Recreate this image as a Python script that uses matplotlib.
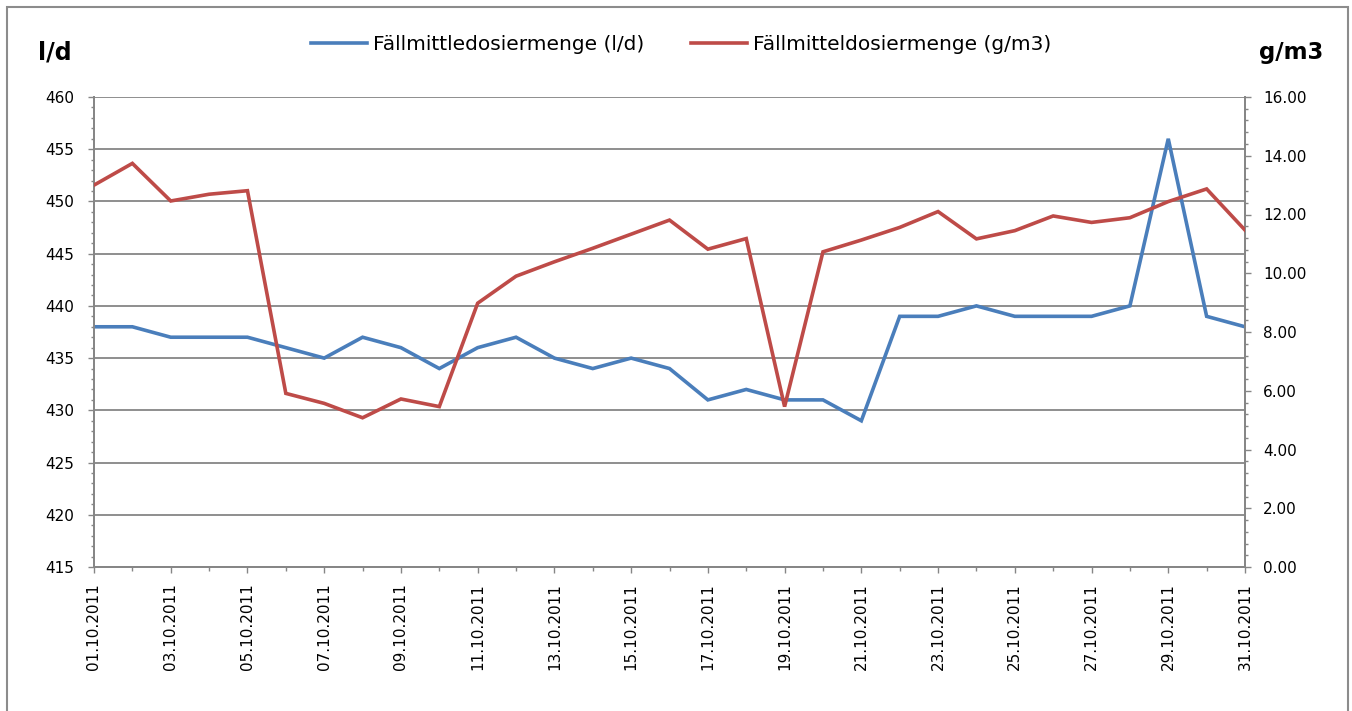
import matplotlib
matplotlib.use("Agg")
import matplotlib.pyplot as plt
from matplotlib.patches import Rectangle
from matplotlib.ticker import MultipleLocator, FixedLocator, FixedFormatter

dates = [f"{d:02d}.10.2011" for d in range(1, 32)]
dosing_ld = [438, 438, 437, 437, 437, 436, 435, 437, 436, 434, 436, 437, 435, 434, 435, 434,
             431, 432, 431, 431, 429, 439, 439, 440, 439, 439, 439, 440, 456, 439, 438]
dosing_gm3 = [13.00, 13.74, 12.46, 12.69, 12.81, 5.91, 5.57, 5.08, 5.72, 5.46, 8.98, 9.90,
              10.39, 10.85, 11.33, 11.81, 10.82, 11.18, 5.46, 10.73, 11.13, 11.56, 12.10,
              11.17, 11.45, 11.95, 11.73, 11.89, 12.44, 12.87, 11.47]
label_ld = "Fällmittledosiermenge (l/d)"
label_gm3 = "Fällmitteldosiermenge (g/m3)"

W, H = 1352, 711
GRAY = "#868686"
BLUE = "#4A7EBB"
RED = "#BE4B48"

plt.rcParams['font.family'] = ['DejaVu Sans']
fig = plt.figure(figsize=(W / 100, H / 100), dpi=100)
ax = fig.add_axes([94 / W, 1 - 567 / H, (1245 - 94) / W, (567 - 97) / H])
ax2 = ax.twinx()

x = list(range(len(dates)))
l1, = ax.plot(x, dosing_ld, color=BLUE, lw=2.6, solid_joinstyle='miter', label=label_ld, zorder=3)
l2, = ax2.plot(x, dosing_gm3, color=RED, lw=2.6, solid_joinstyle='miter', label=label_gm3, zorder=3)

ax.set_xlim(0, len(dates) - 1)
ax.set_ylim(415, 460)
ax2.set_ylim(0, 16)

# y axes
ax.yaxis.set_major_locator(MultipleLocator(5))
ax.yaxis.set_minor_locator(MultipleLocator(1))
ax2.yaxis.set_major_locator(MultipleLocator(2))
ax2.yaxis.set_minor_locator(MultipleLocator(0.4))
ax2.yaxis.set_major_formatter(matplotlib.ticker.FormatStrFormatter('%.2f'))
ax.grid(axis='y', which='major', color=GRAY, lw=1.3, zorder=0)
ax.set_axisbelow(True)

# x axis
major_idx = list(range(0, len(dates), 2))
ax.xaxis.set_major_locator(FixedLocator(major_idx))
ax.xaxis.set_major_formatter(FixedFormatter([dates[i] for i in major_idx]))
ax.xaxis.set_minor_locator(FixedLocator(x))
for lab in ax.get_xticklabels():
    lab.set_rotation(90)

for a in (ax, ax2):
    for s in ('top',):
        a.spines[s].set_visible(False)
    for s in ('left', 'right', 'bottom'):
        a.spines[s].set_color(GRAY)
        a.spines[s].set_linewidth(1.3)

ax.tick_params(axis='y', which='major', length=4, width=1, color=GRAY, labelsize=11, pad=10)
ax.tick_params(axis='y', which='minor', length=2.5, width=1, color=GRAY)
ax2.tick_params(axis='y', which='major', length=4, width=1, color=GRAY, labelsize=11, pad=9)
ax2.tick_params(axis='y', which='minor', length=2.5, width=1, color=GRAY)
ax.tick_params(axis='x', which='major', length=4.5, width=1, color=GRAY, labelsize=11, pad=7)
ax.tick_params(axis='x', which='minor', length=3, width=1, color=GRAY)

# axis unit labels
fig.text(55 / W, 1 - 52 / H, "l/d", fontsize=17, fontweight='bold', ha='center', va='center')
fig.text(1291 / W, 1 - 53 / H, "g/m3", fontsize=16.5, fontweight='bold', ha='center', va='center')

# legend
fig.legend(handles=[l1, l2], loc='center', bbox_to_anchor=(681 / W, 1 - 45 / H), ncol=2,
           frameon=False, fontsize=14.5, handlelength=2.8, handletextpad=0.3,
           columnspacing=2.3, borderpad=0)

# outer chart border
fig.patches.append(Rectangle((7 / W, -0.05), (1348 - 7) / W, (H - 7) / H + 0.05,
                             transform=fig.transFigure, fill=False, ec="#8C8C8C", lw=1.5))

fig.savefig("out.png", dpi=100)
